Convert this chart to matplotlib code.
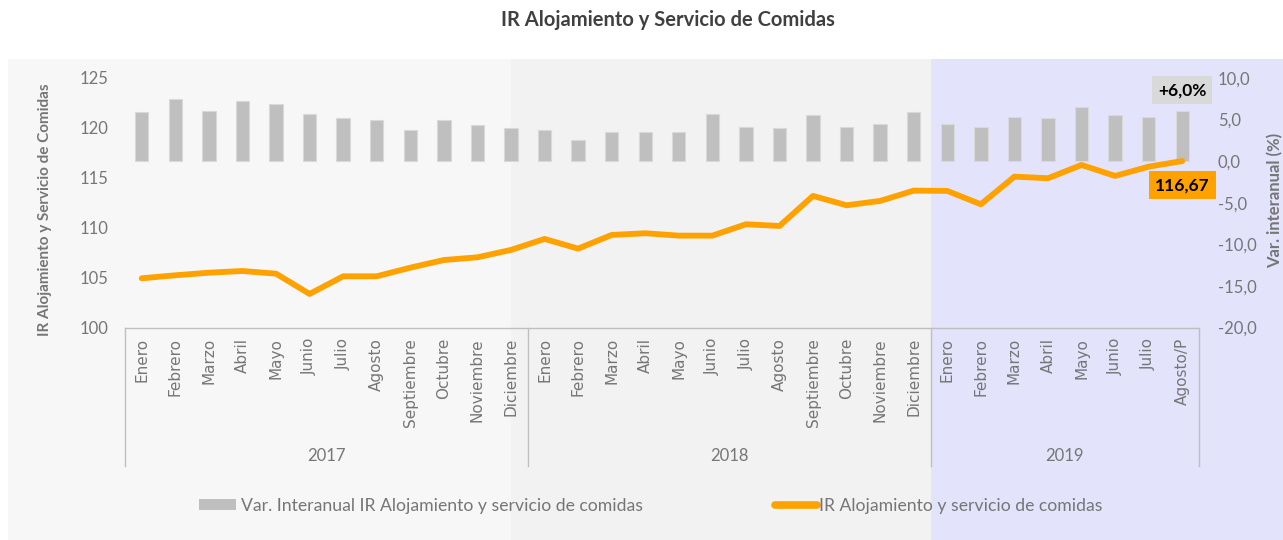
import matplotlib
matplotlib.use("Agg")
import matplotlib.pyplot as plt
from matplotlib.patches import Rectangle, Patch
from matplotlib.lines import Line2D
import matplotlib.transforms as mtransforms

# ---------------- data ----------------
months_2017 = ["Enero", "Febrero", "Marzo", "Abril", "Mayo", "Junio", "Julio",
               "Agosto", "Septiembre", "Octubre", "Noviembre", "Diciembre"]
months_2018 = ["Enero", "Febrero", "Marzo", "Abril", "Mayo", "Junio", "Julio",
               "Agosto", "Septiembre", "Octubre", "Noviembre", "Diciembre"]
months_2019 = ["Enero", "Febrero", "Marzo", "Abril", "Mayo", "Junio", "Julio",
               "Agosto/P"]
years = ["2017", "2018", "2019"]

var_interanual = [5.87, 7.43, 6.02, 7.23, 6.90, 5.66, 5.14, 4.98, 3.77, 4.98, 4.30, 3.94,
                  3.77, 2.57, 3.46, 3.46, 3.46, 5.66, 4.13, 3.98, 5.54, 4.13, 4.49, 5.87,
                  4.49, 4.13, 5.34, 5.18, 6.54, 5.54, 5.34, 6.0]
ir_index = [104.93, 105.23, 105.49, 105.66, 105.39, 103.36, 105.13, 105.13, 105.99, 106.76, 107.03, 107.77,
            108.87, 107.90, 109.27, 109.44, 109.20, 109.20, 110.34, 110.17, 113.18, 112.24, 112.68, 113.71,
            113.68, 112.34, 115.11, 114.95, 116.28, 115.18, 116.11, 116.67]

left_ticks = [100, 105, 110, 115, 120, 125]
right_ticks = [-20, -15, -10, -5, 0, 5, 10]

bar_label = "+6,0%"
line_label = "116,67"
legend_bar = "Var. Interanual IR Alojamiento y servicio de comidas"
legend_line = "IR Alojamiento y servicio de comidas"
title = "IR Alojamiento y Servicio de Comidas"
left_title = "IR Alojamiento y Servicio de Comidas"
right_title = "Var. interanual (%)"

# ---------------- style ----------------
FONT = "Lato"
TICK_C = "#767676"
BAR_C = "#BFBFBF"
LINE_C = "#FFA200"
W, H = 1283, 540

labels = months_2017 + months_2018 + months_2019
groups = [len(months_2017), len(months_2018), len(months_2019)]
x = list(range(len(labels)))

fig = plt.figure(figsize=(W / 100, H / 100), dpi=100, facecolor="white")

# background bands (figure pixel coordinates)
def band(x0, x1, y0, y1, color):
    r = Rectangle((x0 / W, 1 - y1 / H), (x1 - x0) / W, (y1 - y0) / H,
                  transform=fig.transFigure, facecolor=color, edgecolor="none", zorder=-5)
    fig.add_artist(r)

band(8, 511, 59, 540, "#F7F7F7")
band(511, 931, 59, 540, "#F2F2F2")
band(931, 1283, 59, 540, "#E3E3FC")

ax_l, ax_r, ax_t, ax_b = 125, 1199, 77.9, 327.5
ax = fig.add_axes([ax_l / W, 1 - ax_b / H, (ax_r - ax_l) / W, (ax_b - ax_t) / H])
ax2 = ax.twinx()
ax.set_zorder(2)
ax2.set_zorder(1)
ax.patch.set_visible(False)
ax2.patch.set_visible(False)

# bars on the secondary (right) axis
ax2.bar(x, var_interanual, width=0.40, color=BAR_C, edgecolor="#D9D9D9", linewidth=0.8, zorder=2)
ax2.set_ylim(-20, 10)
ax2.set_yticks(right_ticks)
ax2.set_yticklabels([f"{v:.1f}".replace(".", ",") for v in right_ticks])

# line on the primary (left) axis
ax.plot(x, ir_index, color=LINE_C, lw=4.2, solid_capstyle="round", solid_joinstyle="round", zorder=3)
ax.set_ylim(100, 125)
ax.set_yticks(left_ticks)
ax.set_yticklabels([str(v) for v in left_ticks])
ax.set_xlim(-0.5, len(labels) - 0.5)

for a in (ax, ax2):
    for s in a.spines.values():
        s.set_visible(False)
ax.spines["bottom"].set_visible(True)
ax.spines["bottom"].set_color("#BFBFBF")
ax.spines["bottom"].set_linewidth(1.0)

ax.tick_params(axis="y", length=0, pad=12, labelsize=12, labelcolor=TICK_C)
ax2.tick_params(axis="y", length=0, pad=13.5, labelsize=12, labelcolor=TICK_C)
for t in ax.get_yticklabels() + ax2.get_yticklabels():
    t.set_fontfamily(FONT)

ax.set_xticks(x)
ax.set_xticklabels(labels, rotation=90, fontsize=11, color=TICK_C, family="DejaVu Sans")
ax.tick_params(axis="x", length=0, pad=7.5)

# group separators and year labels
trans = mtransforms.blended_transform_factory(ax.transData, ax.transAxes)
y_sep = (ax_b - 466) / (ax_b - ax_t)
y_year = (ax_b - 456) / (ax_b - ax_t)
start = 0
bounds = [-0.5]
for g, yr in zip(groups, years):
    center = start + (g - 1) / 2
    ax.text(center, y_year, yr, transform=trans, ha="center", va="center",
            fontsize=12, color=TICK_C, family=FONT)
    start += g
    bounds.append(start - 0.5)
for b in bounds:
    ax.add_line(Line2D([b, b], [0, y_sep], transform=trans, color="#BFBFBF", lw=1.0, clip_on=False))

# data labels
ax2.annotate(bar_label, xy=(x[-1], var_interanual[-1]), xytext=(0, 15), textcoords="offset points",
             ha="center", va="center", fontsize=12.5, fontweight="bold", family=FONT, color="black",
             bbox=dict(boxstyle="square,pad=0.35", facecolor="#D9D9D9", edgecolor="none"), zorder=5)
ax.annotate(line_label, xy=(x[-1], ir_index[-1]), xytext=(0, -17.5), textcoords="offset points",
            ha="center", va="center", fontsize=12.5, fontweight="bold", family=FONT, color="black",
            bbox=dict(boxstyle="square,pad=0.35", facecolor=LINE_C, edgecolor="none"), zorder=5)

# axis titles
fig.text(45 / W, 1 - 210 / H, left_title, rotation=90, ha="center", va="center",
         fontsize=11, fontweight="bold", color=TICK_C, family=FONT)
fig.text(1275 / W, 1 - 200 / H, right_title, rotation=90, ha="center", va="center",
         fontsize=12, fontweight="bold", color=TICK_C, family=FONT)

# title
fig.text(668 / W, 1 - 20 / H, title, ha="center", va="center", fontsize=14.5,
         fontweight="bold", color="#404040", family=FONT)

# legends
h_bar = Patch(facecolor=BAR_C, edgecolor="none")
h_line = Line2D([0], [0], color=LINE_C, lw=5.5, solid_capstyle="round")
leg_y = 1 - 506 / H
l1 = fig.legend([h_bar], [legend_bar], loc="center left", bbox_to_anchor=(199 / W, leg_y),
                frameon=False, borderpad=0, borderaxespad=0, handlelength=2.1, handleheight=0.55,
                handletextpad=0.3, prop={"family": FONT, "size": 12.7})
l2 = fig.legend([h_line], [legend_line], loc="center left", bbox_to_anchor=(775 / W, leg_y),
                frameon=False, borderpad=0, borderaxespad=0, handlelength=2.4,
                handletextpad=0.1, prop={"family": FONT, "size": 12.7})
for leg in (l1, l2):
    for t in leg.get_texts():
        t.set_color(TICK_C)

fig.savefig("out.png", dpi=100, facecolor="white")
